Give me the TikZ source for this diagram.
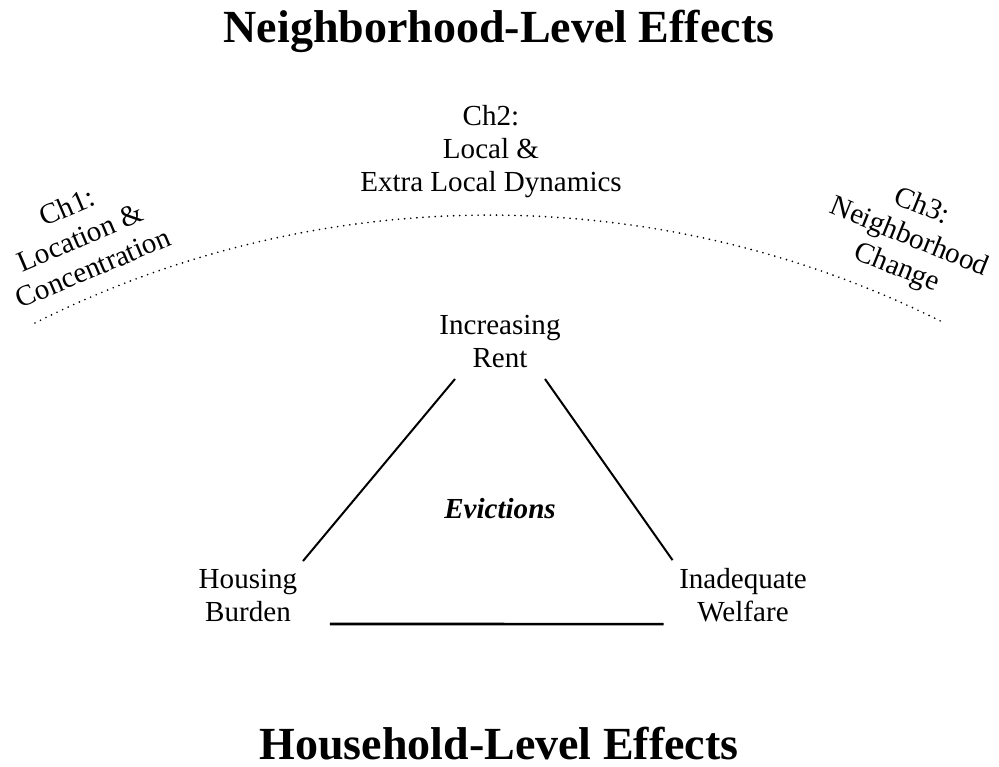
\documentclass[tikz,border=0pt]{standalone}
\usepackage{fontspec}
\setmainfont{Liberation Serif}
\usetikzlibrary{positioning}

\begin{document}
\begin{tikzpicture}[x=0.75pt,y=-0.75pt,
  txt/.style={align=center,font=\fontsize{21.8}{24.75}\selectfont},
  head/.style={font=\fontsize{34.5}{40}\selectfont\bfseries},
  side/.style={line width=1.5pt}]
\useasboundingbox (0,0) rectangle (999,767);
\node[head,anchor=base] (nbhd) at (499,43) {Neighborhood-Level Effects};
\node[head,anchor=base] (hhld) at (499,759) {Household-Level Effects};
\draw[line width=1.4pt,line cap=round,dash pattern=on 0pt off 4.6pt] (35,323) arc[start angle=-116.7,end angle=-63.5,radius=1012];
\node[txt,rotate=23] (ch1) at (80,237) {Ch1:\\Location \&\\Concentration};
\node[txt,anchor=base] (ch2) at (491,191) {Ch2:\\Local \&\\Extra Local Dynamics};
\node[txt,rotate=-22] (ch3) at (909,238) {Ch3:\\Neighborhood\\Change};
\node[txt,anchor=base] (rent) at (500,367) {Increasing\\Rent};
\node[txt,anchor=base] (housing) at (248,621) {Housing\\Burden};
\node[txt,anchor=base] (welfare) at (743,621) {Inadequate\\Welfare};
\node[txt,anchor=base] (evict) at (500,518) {\textbf{\textit{Evictions}}};
\draw[side] ([shift={(-45,7)}]rent.south) -- ([shift={(1,-3)}]housing.north east);
\draw[side] ([shift={(45,7)}]rent.south) -- ([shift={(-2,-3)}]welfare.north west);
\draw[line width=2pt] ([shift={(28,-2)}]housing.south east) -- ([shift={(-11,-2)}]welfare.south west);
\end{tikzpicture}
\end{document}
